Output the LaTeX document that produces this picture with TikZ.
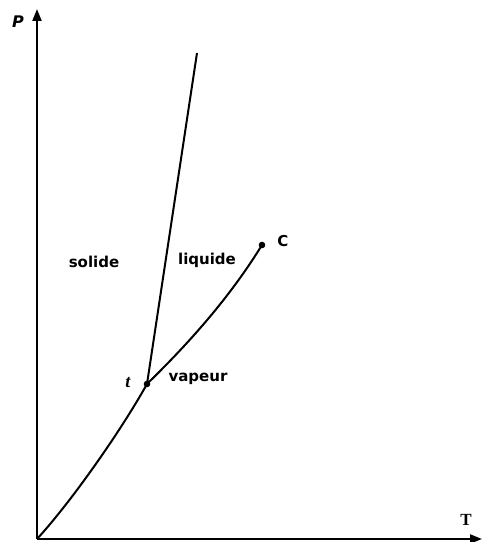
\documentclass[tikz,border=0pt]{standalone}
\usepackage{fontspec}
\setmainfont{DejaVu Sans}
\newfontfamily\axisserif{Liberation Serif}
\usepackage{tikz}
\usetikzlibrary{arrows.meta, positioning}

\begin{document}
\begin{tikzpicture}[x=1pt, y=1pt, every node/.style={font=\fontsize{15}{17}\selectfont\bfseries},
    axis/.style={line width=2.2pt, -{Triangle[length=12pt, width=9pt]}},
    phaseline/.style={line width=2pt}]
        \useasboundingbox (0,0) rectangle (484,542);
        % axes
        \coordinate (O) at (37,3);
        \coordinate (Ptop) at (37,533);
        \coordinate (Tend) at (482,3);
        \draw[axis] (O) -- (Ptop);
        \draw[axis] (O) -- (Tend);
        \node[font=\fontsize{16}{18}\selectfont\bfseries\itshape] (plbl) at (18,520) {P};
        \node[font=\fontsize{17}{19}\selectfont\axisserif\bfseries] (tlbl) at (466,22) {T};

        % triple point, critical point, top of fusion line
        \coordinate (tp) at (147,158);
        \coordinate (cp) at (262,297);
        \coordinate (ftop) at (197,489);

        % phase boundaries
        \draw[phaseline] (O) .. controls (72,41) and (122,113) .. (tp);
        \draw[phaseline] (tp) -- (ftop);
        \draw[phaseline] (tp) .. controls (190,200) and (230,245) .. (cp);
        \fill (tp) circle (3.3pt);
        \fill (cp) circle (3.3pt);

        % labels
        \node[font=\fontsize{18}{20}\selectfont\axisserif\bfseries\itshape] (tname) at (128,159) {t};
        \node (cname) at (283,301) {C};
        \node (solide) at (94,280) {solide};
        \node (liquide) at (207,282) {liquide};
        \node (vapeur) at (198,163) {vapeur};
      \end{tikzpicture}
\end{document}
